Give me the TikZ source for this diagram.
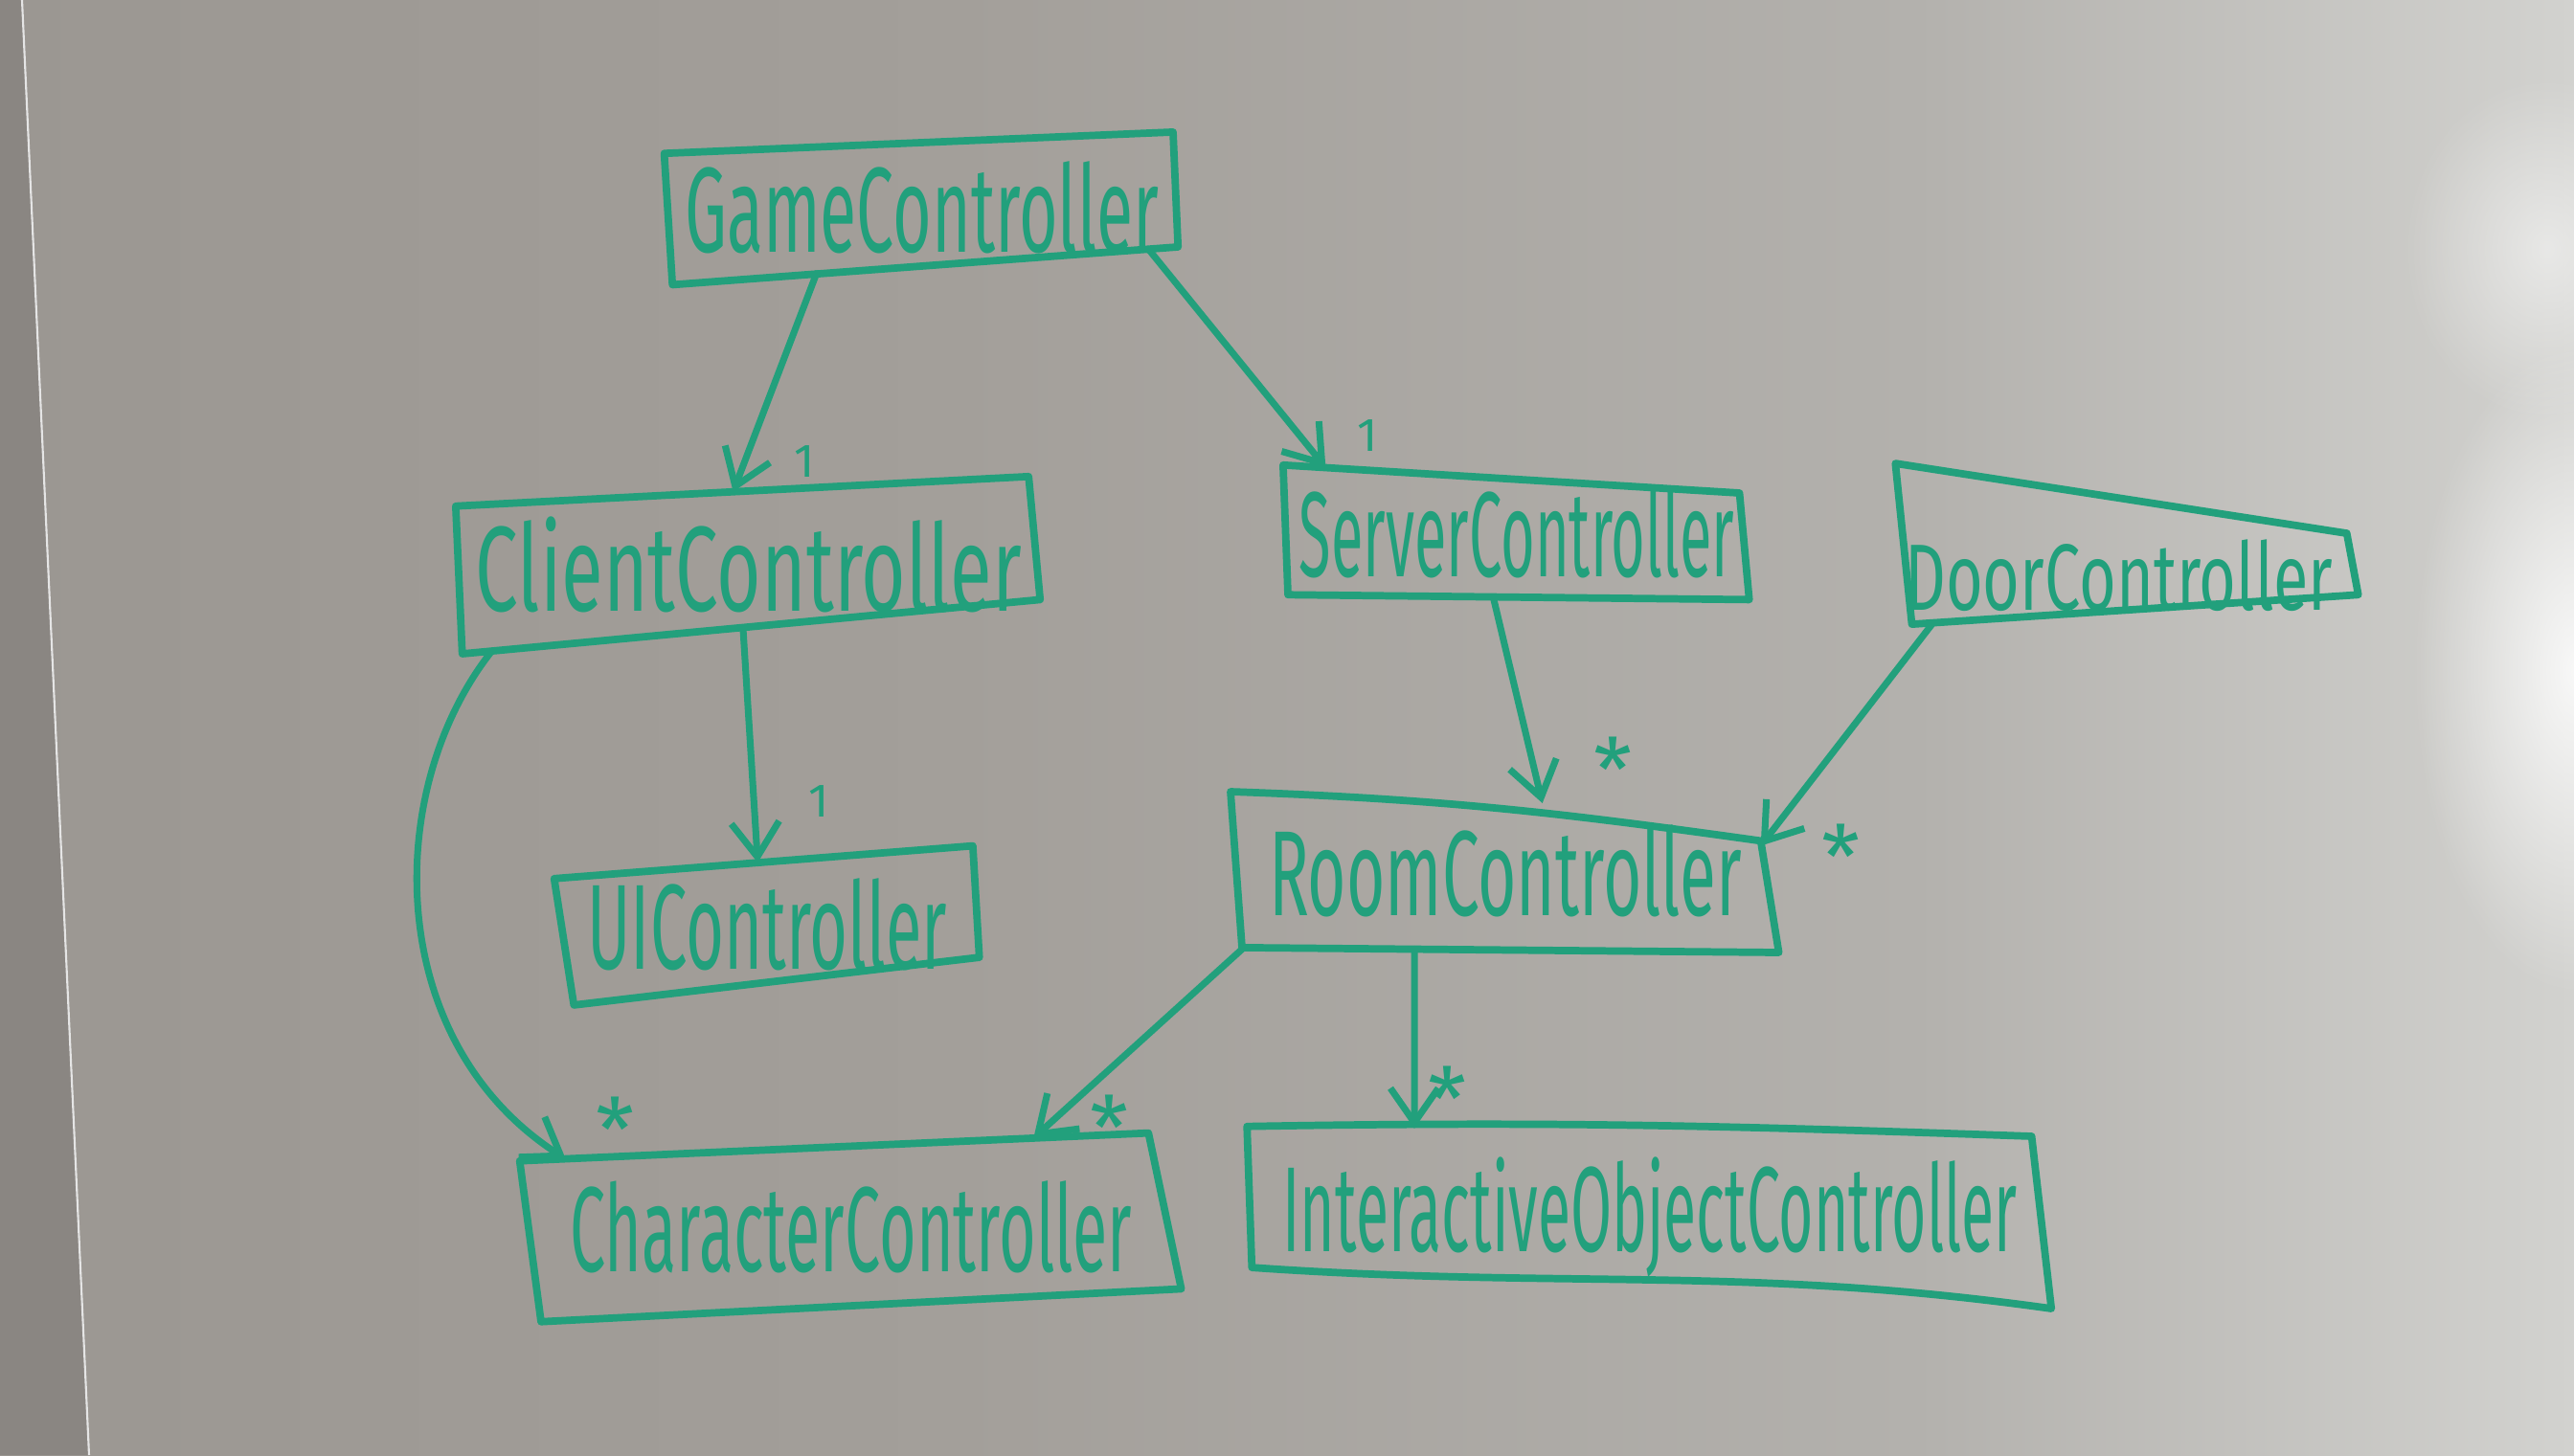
\documentclass[tikz,border=0pt]{standalone}
\usepackage{fontspec}
\setmainfont{Fira Sans}
\usetikzlibrary{arrows.meta,fadings,calc}
\definecolor{marker}{HTML}{22A07C}
\definecolor{bgA}{HTML}{9B9792}
\definecolor{bgB}{HTML}{A39F9A}
\definecolor{bgC}{HTML}{B3B1AD}
\definecolor{bgD}{HTML}{D2D2CF}
\definecolor{frame}{HTML}{8A8682}
\tikzfading[name=glow, inner color=transparent!0, outer color=transparent!100]
\newcommand{\hw}[2][0.55]{\scalebox{#1}[1]{#2}}
\newcommand{\mstar}{\raisebox{-0.4em}[0.36em][0pt]{*}}
\begin{document}
\begin{tikzpicture}[x=1cm,y=1cm,
  cls/.style={rectangle, inner sep=0pt, text=marker, font=\fontsize{36}{40}\selectfont},
  outline/.style={draw=marker, line width=2.2pt, line join=round, line cap=round},
  conn/.style={draw=marker, line width=2pt, line cap=round,
               -{Straight Barb[length=0.36cm,width=0.5cm]}},
  mult/.style={text=marker, inner sep=0pt, font=\fontsize{26}{28}\selectfont},
  one/.style={text=marker, inner sep=0pt, font=\fontsize{14}{16}\selectfont}]
\useasboundingbox (0,0) rectangle (26.88,15.2);
% background board
\begin{scope}
\clip (0,0) rectangle (26.88,15.2);
\shade[left color=bgA, right color=bgB] (0,0) rectangle (10,15.2);
\shade[left color=bgB, right color=bgC] (10,0) rectangle (20,15.2);
\shade[left color=bgC, right color=bgD] (20,0) rectangle (26.88,15.2);
\fill[white, path fading=glow, opacity=0.85] (26.9,8.2) ellipse (1.7cm and 3.4cm);
\fill[white, path fading=glow, opacity=0.5] (26.6,12.6) ellipse (1.5cm and 1.8cm);
\fill[frame] (0,15.2) -- (0.23,15.2) -- (0.93,0) -- (0,0) -- cycle;
\draw[white!80!gray, line width=0.6pt] (0.23,15.2) -- (0.93,0);
\end{scope}

% classes
\node[cls, minimum width=5.366cm, minimum height=1.595cm] (game)   at (9.626,13.03)   {\hw[0.551]{GameController}};
\node[cls, minimum width=6.103cm, minimum height=1.852cm] (client) at (7.8175,9.303)  {\hw[0.631]{ClientController}};
\node[cls, minimum width=4.868cm, minimum height=1.406cm] (server) at (15.84,9.646)   {\hw[0.484]{ServerController}};
\node[cls, minimum width=4.834cm, minimum height=1.68cm]  (door)   at (22.217,9.526)  {};
\node[cls, minimum width=4.44cm,  minimum height=1.663cm] (ui)     at (8.014,5.5395)  {\hw[0.542]{UIController}};
\node[cls, minimum width=5.726cm, minimum height=1.68cm]  (room)   at (15.72,6.097)   {\hw[0.547]{RoomController}};
\node[cls, minimum width=6.909cm, minimum height=1.971cm] (char)   at (8.8885,2.3855) {\hw[0.524]{CharacterController}};
\node[cls, minimum width=8.4cm,   minimum height=1.903cm] (inter)  at (17.229,2.4885) {\hw[0.493]{InteractiveObjectController}};
\node[text=marker, inner sep=0pt, font=\fontsize{28}{32}\selectfont] (doortext)
  at ([shift={(-0.09,-0.34)}]door.center) {\hw[0.676]{DoorController}};

% hand-drawn outlines
\draw[outline] ([shift={(0,1.372)}]game.south west) -- ([shift={(5.314,1.595)}]game.south west)
  -- ([shift={(5.366,0.395)}]game.south west) -- ([shift={(0.086,0)}]game.south west) -- cycle;
\draw[outline] ([shift={(0,1.543)}]client.south west) -- ([shift={(5.983,1.852)}]client.south west)
  -- ([shift={(6.103,0.566)}]client.south west) -- ([shift={(0.068,0)}]client.south west) -- cycle;
\draw[outline] ([shift={(0,1.406)}]server.south west) -- ([shift={(4.766,1.114)}]server.south west)
  -- ([shift={(4.868,0)}]server.south west) -- ([shift={(0.051,0.051)}]server.south west) -- cycle;
\draw[outline] ([shift={(0,1.68)}]door.south west) -- ([shift={(4.714,0.95)}]door.south west)
  -- ([shift={(4.834,0.308)}]door.south west) -- ([shift={(0.172,0)}]door.south west) -- cycle;
\draw[outline] ([shift={(0,1.321)}]ui.south west) -- ([shift={(4.372,1.663)}]ui.south west)
  -- ([shift={(4.44,0.498)}]ui.south west) -- ([shift={(0.206,0)}]ui.south west) -- cycle;
\draw[outline] ([shift={(0,1.68)}]room.south west) to[out=-2,in=172] ([shift={(5.537,1.166)}]room.south west)
  -- ([shift={(5.726,0)}]room.south west) -- ([shift={(0.12,0.051)}]room.south west) -- cycle;
\draw[outline] ([shift={(0,1.68)}]char.south west) -- ([shift={(6.566,1.971)}]char.south west)
  -- ([shift={(6.909,0.343)}]char.south west) -- ([shift={(0.223,0)}]char.south west) -- cycle;
\draw[outline] ([shift={(0,1.903)}]inter.south west) to[out=1,in=178] ([shift={(8.194,1.8)}]inter.south west)
  -- ([shift={(8.4,0)}]inter.south west) to[out=172,in=-4] ([shift={(0.051,0.429)}]inter.south west) -- cycle;

% associations
\draw[conn] ([shift={(1.591,0.119)}]game.south west) -- ([shift={(2.897,1.693)}]client.south west);
\draw[conn] ([shift={(5.057,0.372)}]game.south west) -- ([shift={(0.445,1.379)}]server.south west);
\draw[conn] ([shift={(3.0,0.275)}]client.south west) -- ([shift={(2.126,1.487)}]ui.south west);
\draw[conn] ([shift={(0.377,0.029)}]client.south west) .. controls +(-1.14,-1.44) and +(-1.91,1.23) .. ([shift={(0.48,1.701)}]char.south west);
\draw[conn] ([shift={(2.194,0.028)}]server.south west) -- ([shift={(3.257,1.56)}]room.south west);
\draw[conn] ([shift={(0.394,0.015)}]door.south west) -- ([shift={(5.537,1.115)}]room.south west);
\draw[conn] ([shift={(0.12,0.034)}]room.south west) -- ([shift={(5.366,1.918)}]char.south west);
\draw[conn] ([shift={(1.92,0.035)}]room.south west) -- ([shift={(1.748,1.881)}]inter.south west);

% multiplicities
\node[one]  (mgc) at (8.40,10.38) {1};
\node[one]  (mgs) at (14.28,10.65) {1};
\node[one]  (mcu) at (8.55,6.83) {1};
\node[mult] (msr) at (16.85,7.36) {\mstar};
\node[mult] (mdr) at (19.23,6.45) {\mstar};
\node[mult] (mcc) at (6.43,3.60) {\mstar};
\node[mult] (mrc) at (11.59,3.62) {\mstar};
\node[mult] (mri) at (15.12,3.92) {\mstar};
\end{tikzpicture}
\end{document}
